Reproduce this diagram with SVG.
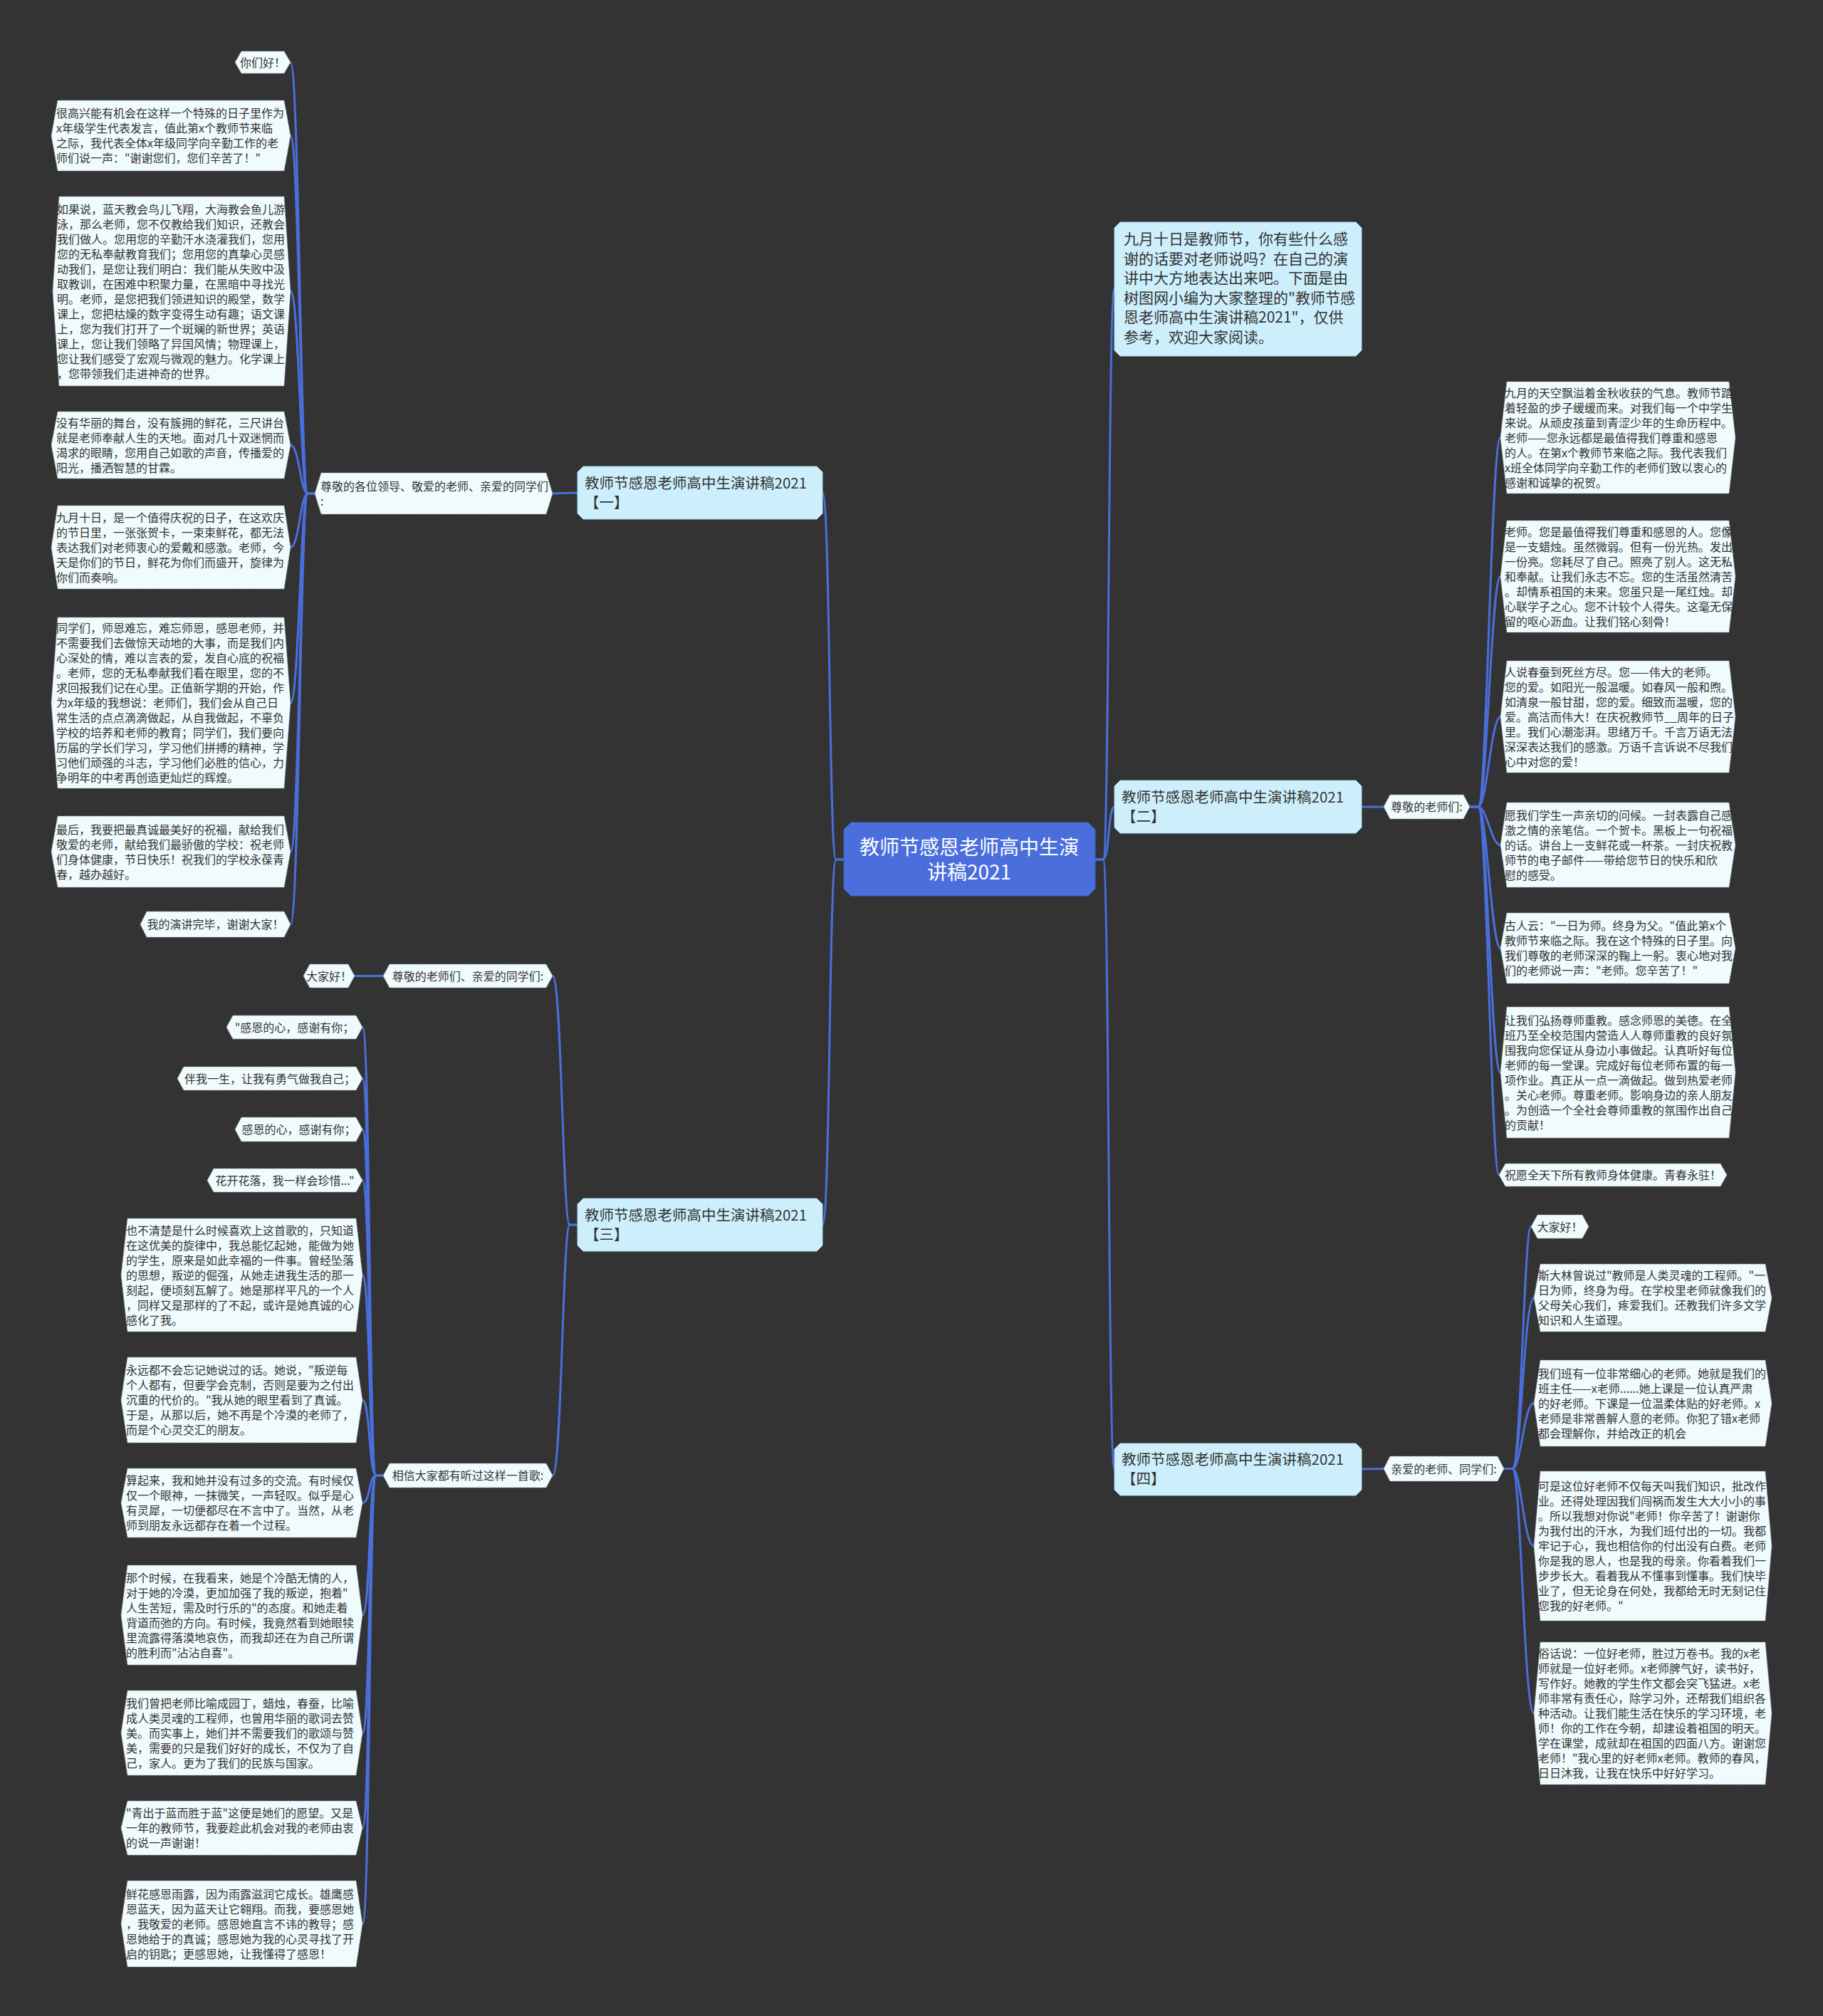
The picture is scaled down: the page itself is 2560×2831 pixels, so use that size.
<svg xmlns="http://www.w3.org/2000/svg" width="2560" height="2831" viewBox="0 0 2560 2831">
<style>
.bg{fill:#333333}
.leaf{fill:#f0fbfd;stroke:#8c9ca2;stroke-width:1;stroke-dasharray:2 2}
.br{fill:#cdeffb;stroke:#a6dbef;stroke-width:1}
.ctr{fill:#4a6fdc;stroke:#3f60c8;stroke-width:1}
text{font-family:"Noto Sans CJK SC","Noto Sans",sans-serif}
.lt{font-size:16px;fill:#333333}
.ltc{font-size:16px;fill:#333333;text-anchor:middle}
.bt{font-size:20.5px;fill:#333333}
.it{font-size:21px;fill:#333333}
.ct{font-size:28px;fill:#ffffff;text-anchor:middle}
.ln{fill:none;stroke:#4a6fdc;stroke-width:3}
</style>
<rect class="bg" x="0" y="0" width="2560" height="2831"/>
<g id="connectors">
<path class="ln" d="M1185,1207 L1174,1207 C1164,1207 1166,692 1155,692"/>
<path class="ln" d="M1185,1207 L1174,1207 C1164,1207 1166,1720 1155,1720"/>
<path class="ln" d="M1538,1207 L1549,1207 C1558,1207 1556,406 1565,406"/>
<path class="ln" d="M1538,1207 L1549,1207 C1558,1207 1556,1133 1565,1133"/>
<path class="ln" d="M1538,1207 L1549,1207 C1558,1207 1556,2063 1565,2063"/>
<path class="ln" d="M811,692 L776,693"/>
<path class="ln" d="M811,1720 L800,1720 C790,1720 789,1370.5 776,1370.5"/>
<path class="ln" d="M811,1720 L800,1720 C790,1720 789,2072 776,2072"/>
<path class="ln" d="M1912,1133 L1943,1133"/>
<path class="ln" d="M1912,2063 L1943,2062.5"/>
<path class="ln" d="M442,693 L432,693 C422,693 420,87.5 408,87.5"/>
<path class="ln" d="M442,693 L432,693 C422,693 420,190.5 408,190.5"/>
<path class="ln" d="M442,693 L432,693 C422,693 420,409 408,409"/>
<path class="ln" d="M442,693 L432,693 C422,693 420,625 408,625"/>
<path class="ln" d="M442,693 L432,693 C422,693 420,768.5 408,768.5"/>
<path class="ln" d="M442,693 L432,693 C422,693 420,987 408,987"/>
<path class="ln" d="M442,693 L432,693 C422,693 420,1196 408,1196"/>
<path class="ln" d="M442,693 L432,693 C422,693 420,1298 408,1298"/>
<path class="ln" d="M538,1370.5 L498,1370.5"/>
<path class="ln" d="M538,2072 L528,2072 C518,2072 520,1442.5 509,1442.5"/>
<path class="ln" d="M538,2072 L528,2072 C518,2072 520,1514.5 509,1514.5"/>
<path class="ln" d="M538,2072 L528,2072 C518,2072 520,1586 509,1586"/>
<path class="ln" d="M538,2072 L528,2072 C518,2072 520,1657.5 509,1657.5"/>
<path class="ln" d="M538,2072 L528,2072 C518,2072 520,1790.5 509,1790.5"/>
<path class="ln" d="M538,2072 L528,2072 C518,2072 520,1966 509,1966"/>
<path class="ln" d="M538,2072 L528,2072 C518,2072 520,2110.5 509,2110.5"/>
<path class="ln" d="M538,2072 L528,2072 C518,2072 520,2268 509,2268"/>
<path class="ln" d="M538,2072 L528,2072 C518,2072 520,2433.5 509,2433.5"/>
<path class="ln" d="M538,2072 L528,2072 C518,2072 520,2567 509,2567"/>
<path class="ln" d="M538,2072 L528,2072 C518,2072 520,2701.5 509,2701.5"/>
<path class="ln" d="M2064,1133 L2076,1133 C2088,1133 2094,614.5 2107,614.5"/>
<path class="ln" d="M2064,1133 L2076,1133 C2088,1133 2094,809.5 2107,809.5"/>
<path class="ln" d="M2064,1133 L2076,1133 C2088,1133 2094,1006.5 2107,1006.5"/>
<path class="ln" d="M2064,1133 L2076,1133 C2088,1133 2094,1186.5 2107,1186.5"/>
<path class="ln" d="M2064,1133 L2076,1133 C2088,1133 2094,1331.5 2107,1331.5"/>
<path class="ln" d="M2064,1133 L2076,1133 C2088,1133 2094,1506 2107,1506"/>
<path class="ln" d="M2064,1133 L2076,1133 C2088,1133 2094,1650 2105,1650"/>
<path class="ln" d="M2112,2062.5 L2124,2062.5 C2136,2062.5 2140,1722.5 2150,1722.5"/>
<path class="ln" d="M2112,2062.5 L2124,2062.5 C2136,2062.5 2140,1822.5 2154,1822.5"/>
<path class="ln" d="M2112,2062.5 L2124,2062.5 C2136,2062.5 2140,1970.5 2154,1970.5"/>
<path class="ln" d="M2112,2062.5 L2124,2062.5 C2136,2062.5 2140,2171 2154,2171"/>
<path class="ln" d="M2112,2062.5 L2124,2062.5 C2136,2062.5 2140,2406 2154,2406"/>
</g>

<g id="center">
<polygon class="ctr" points="1195,1155 1528,1155 1538,1165 1538,1248 1528,1258 1195,1258 1185,1248 1185,1165"/>
<text class="ct" x="1361" y="1200">教师节感恩老师高中生演</text>
<text class="ct" x="1361" y="1235">讲稿2021</text>
</g>

<g id="intro">
<polygon class="br" points="1573,312 1904,312 1912,320 1912,492 1904,500 1573,500 1565,492 1565,320"/>
<text class="it" x="1578" y="343"><tspan x="1578" dy="0">九月十日是教师节，你有些什么感</tspan><tspan x="1578" dy="27.6">谢的话要对老师说吗？在自己的演</tspan><tspan x="1578" dy="27.6">讲中大方地表达出来吧。下面是由</tspan><tspan x="1578" dy="27.6">树图网小编为大家整理的"教师节感</tspan><tspan x="1578" dy="27.6">恩老师高中生演讲稿2021"，仅供</tspan><tspan x="1578" dy="27.6">参考，欢迎大家阅读。</tspan></text>
</g>

<g id="branch1">
<polygon class="br" points="819,655 1147,655 1155,663 1155,721 1147,729 819,729 811,721 811,663"/>
<text class="bt" x="821" y="686"><tspan x="821" dy="0">教师节感恩老师高中生演讲稿2021</tspan><tspan x="821" dy="27">【一】</tspan></text>
</g>
<g id="branch2">
<polygon class="br" points="1573,1096 1904,1096 1912,1104 1912,1162 1904,1170 1573,1170 1565,1162 1565,1104"/>
<text class="bt" x="1575" y="1127"><tspan x="1575" dy="0">教师节感恩老师高中生演讲稿2021</tspan><tspan x="1575" dy="27">【二】</tspan></text>
</g>
<g id="branch3">
<polygon class="br" points="819,1683 1147,1683 1155,1691 1155,1749 1147,1757 819,1757 811,1749 811,1691"/>
<text class="bt" x="821" y="1714"><tspan x="821" dy="0">教师节感恩老师高中生演讲稿2021</tspan><tspan x="821" dy="27">【三】</tspan></text>
</g>
<g id="branch4">
<polygon class="br" points="1573,2027 1904,2027 1912,2035 1912,2092 1904,2100 1573,2100 1565,2092 1565,2035"/>
<text class="bt" x="1575" y="2057"><tspan x="1575" dy="0">教师节感恩老师高中生演讲稿2021</tspan><tspan x="1575" dy="27">【四】</tspan></text>
</g>

<g id="sub1">
<polygon class="leaf" points="442,693 451,664 767,664 776,693 767,722 451,722"/>
<text class="lt" x="450" y="688.5"><tspan x="450" dy="0">尊敬的各位领导、敬爱的老师、亲爱的同学们</tspan><tspan x="450" dy="21">:</tspan></text>
</g>
<g id="l1a">
<polygon class="leaf" points="330,87.5 339,72 399,72 408,87.5 399,103 339,103"/>
<text class="ltc" x="369" y="93.5">你们好！</text>
</g>
<g id="l1b">
<polygon class="leaf" points="72,190.5 81,141 399,141 408,190.5 399,240 81,240"/>
<text class="lt" x="79" y="165"><tspan x="79" dy="0">很高兴能有机会在这样一个特殊的日子里作为</tspan><tspan x="79" dy="21">x年级学生代表发言，值此第x个教师节来临</tspan><tspan x="79" dy="21">之际，我代表全体x年级同学向辛勤工作的老</tspan><tspan x="79" dy="21">师们说一声："谢谢您们，您们辛苦了！"</tspan></text>
</g>
<g id="l1c">
<polygon class="leaf" points="74,409 83,276 399,276 408,409 399,542 83,542"/>
<text class="lt" x="80" y="299.5"><tspan x="80" dy="0">如果说，蓝天教会鸟儿飞翔，大海教会鱼儿游</tspan><tspan x="80" dy="21">泳，那么老师，您不仅教给我们知识，还教会</tspan><tspan x="80" dy="21">我们做人。您用您的辛勤汗水浇灌我们，您用</tspan><tspan x="80" dy="21">您的无私奉献教育我们；您用您的真挚心灵感</tspan><tspan x="80" dy="21">动我们，是您让我们明白：我们能从失败中汲</tspan><tspan x="80" dy="21">取教训，在困难中积聚力量，在黑暗中寻找光</tspan><tspan x="80" dy="21">明。老师，是您把我们领进知识的殿堂，数学</tspan><tspan x="80" dy="21">课上，您把枯燥的数字变得生动有趣；语文课</tspan><tspan x="80" dy="21">上，您为我们打开了一个斑斓的新世界；英语</tspan><tspan x="80" dy="21">课上，您让我们领略了异国风情；物理课上，</tspan><tspan x="80" dy="21">您让我们感受了宏观与微观的魅力。化学课上</tspan><tspan x="80" dy="21">，您带领我们走进神奇的世界。</tspan></text>
</g>
<g id="l1d">
<polygon class="leaf" points="72,625 81,578 399,578 408,625 399,672 81,672"/>
<text class="lt" x="79" y="599.5"><tspan x="79" dy="0">没有华丽的舞台，没有簇拥的鲜花，三尺讲台</tspan><tspan x="79" dy="21">就是老师奉献人生的天地。面对几十双迷惘而</tspan><tspan x="79" dy="21">渴求的眼睛，您用自己如歌的声音，传播爱的</tspan><tspan x="79" dy="21">阳光，播洒智慧的甘霖。</tspan></text>
</g>
<g id="l1e">
<polygon class="leaf" points="72,768.5 81,710 399,710 408,768.5 399,827 81,827"/>
<text class="lt" x="79" y="732.5"><tspan x="79" dy="0">九月十日，是一个值得庆祝的日子，在这欢庆</tspan><tspan x="79" dy="21">的节日里，一张张贺卡，一束束鲜花，都无法</tspan><tspan x="79" dy="21">表达我们对老师衷心的爱戴和感激。老师，今</tspan><tspan x="79" dy="21">天是你们的节日，鲜花为你们而盛开，旋律为</tspan><tspan x="79" dy="21">你们而奏响。</tspan></text>
</g>
<g id="l1f">
<polygon class="leaf" points="72,987 81,867 399,867 408,987 399,1107 81,1107"/>
<text class="lt" x="79" y="888"><tspan x="79" dy="0">同学们，师恩难忘，难忘师恩，感恩老师，并</tspan><tspan x="79" dy="21">不需要我们去做惊天动地的大事，而是我们内</tspan><tspan x="79" dy="21">心深处的情，难以言表的爱，发自心底的祝福</tspan><tspan x="79" dy="21">。老师，您的无私奉献我们看在眼里，您的不</tspan><tspan x="79" dy="21">求回报我们记在心里。正值新学期的开始，作</tspan><tspan x="79" dy="21">为x年级的我想说：老师们，我们会从自己日</tspan><tspan x="79" dy="21">常生活的点点滴滴做起，从自我做起，不辜负</tspan><tspan x="79" dy="21">学校的培养和老师的教育；同学们，我们要向</tspan><tspan x="79" dy="21">历届的学长们学习，学习他们拼搏的精神，学</tspan><tspan x="79" dy="21">习他们顽强的斗志，学习他们必胜的信心，力</tspan><tspan x="79" dy="21">争明年的中考再创造更灿烂的辉煌。</tspan></text>
</g>
<g id="l1g">
<polygon class="leaf" points="72,1196 81,1146 399,1146 408,1196 399,1246 81,1246"/>
<text class="lt" x="79" y="1170.5"><tspan x="79" dy="0">最后，我要把最真诚最美好的祝福，献给我们</tspan><tspan x="79" dy="21">敬爱的老师，献给我们最骄傲的学校：祝老师</tspan><tspan x="79" dy="21">们身体健康，节日快乐！祝我们的学校永葆青</tspan><tspan x="79" dy="21">春，越办越好。</tspan></text>
</g>
<g id="l1h">
<polygon class="leaf" points="197,1298 206,1280 399,1280 408,1298 399,1316 206,1316"/>
<text class="ltc" x="302.5" y="1304">我的演讲完毕，谢谢大家！</text>
</g>

<g id="sub3a">
<polygon class="leaf" points="538,1370.5 547,1354 767,1354 776,1370.5 767,1387 547,1387"/>
<text class="ltc" x="657" y="1376.5">尊敬的老师们、亲爱的同学们:</text>
</g>
<g id="l3a1">
<polygon class="leaf" points="426,1370.5 435,1354 489,1354 498,1370.5 489,1387 435,1387"/>
<text class="ltc" x="462" y="1376.5">大家好！</text>
</g>
<g id="sub3b">
<polygon class="leaf" points="538,2072 547,2055 767,2055 776,2072 767,2089 547,2089"/>
<text class="ltc" x="657" y="2078">相信大家都有听过这样一首歌:</text>
</g>
<g id="l3b1">
<polygon class="leaf" points="318,1442.5 327,1426 500,1426 509,1442.5 500,1459 327,1459"/>
<text class="ltc" x="413.5" y="1448.5">"感恩的心，感谢有你；</text>
</g>
<g id="l3b2">
<polygon class="leaf" points="249,1514.5 258,1498 500,1498 509,1514.5 500,1531 258,1531"/>
<text class="ltc" x="379" y="1520.5">伴我一生，让我有勇气做我自己；</text>
</g>
<g id="l3b3">
<polygon class="leaf" points="330,1586 339,1569 500,1569 509,1586 500,1603 339,1603"/>
<text class="ltc" x="419.5" y="1592">感恩的心，感谢有你；</text>
</g>
<g id="l3b4">
<polygon class="leaf" points="291,1657.5 300,1641 500,1641 509,1657.5 500,1674 300,1674"/>
<text class="ltc" x="400" y="1663.5">花开花落，我一样会珍惜..."</text>
</g>
<g id="l3b5">
<polygon class="leaf" points="170,1790.5 179,1711 500,1711 509,1790.5 500,1870 179,1870"/>
<text class="lt" x="177" y="1733.5"><tspan x="177" dy="0">也不清楚是什么时候喜欢上这首歌的，只知道</tspan><tspan x="177" dy="21">在这优美的旋律中，我总能忆起她，能做为她</tspan><tspan x="177" dy="21">的学生，原来是如此幸福的一件事。曾经坠落</tspan><tspan x="177" dy="21">的思想，叛逆的倔强，从她走进我生活的那一</tspan><tspan x="177" dy="21">刻起，便顷刻瓦解了。她是那样平凡的一个人</tspan><tspan x="177" dy="21">，同样又是那样的了不起，或许是她真诚的心</tspan><tspan x="177" dy="21">感化了我。</tspan></text>
</g>
<g id="l3b6">
<polygon class="leaf" points="170,1966 179,1906 500,1906 509,1966 500,2026 179,2026"/>
<text class="lt" x="177" y="1930"><tspan x="177" dy="0">永远都不会忘记她说过的话。她说，"叛逆每</tspan><tspan x="177" dy="21">个人都有，但要学会克制，否则是要为之付出</tspan><tspan x="177" dy="21">沉重的代价的。"我从她的眼里看到了真诚。</tspan><tspan x="177" dy="21">于是，从那以后，她不再是个冷漠的老师了，</tspan><tspan x="177" dy="21">而是个心灵交汇的朋友。</tspan></text>
</g>
<g id="l3b7">
<polygon class="leaf" points="170,2110.5 179,2062 500,2062 509,2110.5 500,2159 179,2159"/>
<text class="lt" x="177" y="2085"><tspan x="177" dy="0">算起来，我和她并没有过多的交流。有时候仅</tspan><tspan x="177" dy="21">仅一个眼神，一抹微笑，一声轻叹。似乎是心</tspan><tspan x="177" dy="21">有灵犀，一切便都尽在不言中了。当然，从老</tspan><tspan x="177" dy="21">师到朋友永远都存在着一个过程。</tspan></text>
</g>
<g id="l3b8">
<polygon class="leaf" points="170,2268 179,2198 500,2198 509,2268 500,2338 179,2338"/>
<text class="lt" x="177" y="2221.5"><tspan x="177" dy="0">那个时候，在我看来，她是个冷酷无情的人，</tspan><tspan x="177" dy="21">对于她的冷漠，更加加强了我的叛逆，抱着"</tspan><tspan x="177" dy="21">人生苦短，需及时行乐的"的态度。和她走着</tspan><tspan x="177" dy="21">背道而弛的方向。有时候，我竟然看到她眼犊</tspan><tspan x="177" dy="21">里流露得落漠地哀伤，而我却还在为自己所谓</tspan><tspan x="177" dy="21">的胜利而"沾沾自喜"。</tspan></text>
</g>
<g id="l3b9">
<polygon class="leaf" points="170,2433.5 179,2374 500,2374 509,2433.5 500,2493 179,2493"/>
<text class="lt" x="177" y="2397.5"><tspan x="177" dy="0">我们曾把老师比喻成园丁，蜡烛，春蚕，比喻</tspan><tspan x="177" dy="21">成人类灵魂的工程师，也曾用华丽的歌词去赞</tspan><tspan x="177" dy="21">美。而实事上，她们并不需要我们的歌颂与赞</tspan><tspan x="177" dy="21">美，需要的只是我们好好的成长，不仅为了自</tspan><tspan x="177" dy="21">己，家人。更为了我们的民族与国家。</tspan></text>
</g>
<g id="l3b10">
<polygon class="leaf" points="170,2567 179,2529 500,2529 509,2567 500,2605 179,2605"/>
<text class="lt" x="177" y="2552"><tspan x="177" dy="0">"青出于蓝而胜于蓝"这便是她们的愿望。又是</tspan><tspan x="177" dy="21">一年的教师节，我要趁此机会对我的老师由衷</tspan><tspan x="177" dy="21">的说一声谢谢！</tspan></text>
</g>
<g id="l3b11">
<polygon class="leaf" points="170,2701.5 179,2641 500,2641 509,2701.5 500,2762 179,2762"/>
<text class="lt" x="177" y="2665.5"><tspan x="177" dy="0">鲜花感恩雨露，因为雨露滋润它成长。雄鹰感</tspan><tspan x="177" dy="21">恩蓝天，因为蓝天让它翱翔。而我，要感恩她</tspan><tspan x="177" dy="21">，我敬爱的老师。感恩她直言不讳的教导；感</tspan><tspan x="177" dy="21">恩她给于的真诚；感恩她为我的心灵寻找了开</tspan><tspan x="177" dy="21">启的钥匙；更感恩她，让我懂得了感恩！</tspan></text>
</g>

<g id="sub2">
<polygon class="leaf" points="1943,1133 1952,1116 2055,1116 2064,1133 2055,1150 1952,1150"/>
<text class="ltc" x="2003.5" y="1139">尊敬的老师们:</text>
</g>
<g id="r2a">
<polygon class="leaf" points="2107,614.5 2116,536 2428,536 2437,614.5 2428,693 2116,693"/>
<text class="lt" x="2113" y="557.5"><tspan x="2113" dy="0">九月的天空飘溢着金秋收获的气息。教师节踏</tspan><tspan x="2113" dy="21">着轻盈的步子缓缓而来。对我们每一个中学生</tspan><tspan x="2113" dy="21">来说。从顽皮孩童到青涩少年的生命历程中。</tspan><tspan x="2113" dy="21">老师——您永远都是最值得我们尊重和感恩</tspan><tspan x="2113" dy="21">的人。在第x个教师节来临之际。我代表我们</tspan><tspan x="2113" dy="21">x班全体同学向辛勤工作的老师们致以衷心的</tspan><tspan x="2113" dy="21">感谢和诚挚的祝贺。</tspan></text>
</g>
<g id="r2b">
<polygon class="leaf" points="2107,809.5 2116,731 2428,731 2437,809.5 2428,888 2116,888"/>
<text class="lt" x="2113" y="752.5"><tspan x="2113" dy="0">老师。您是最值得我们尊重和感恩的人。您像</tspan><tspan x="2113" dy="21">是一支蜡烛。虽然微弱。但有一份光热。发出</tspan><tspan x="2113" dy="21">一份亮。您耗尽了自己。照亮了别人。这无私</tspan><tspan x="2113" dy="21">和奉献。让我们永志不忘。您的生活虽然清苦</tspan><tspan x="2113" dy="21">。却情系祖国的未来。您虽只是一尾红烛。却</tspan><tspan x="2113" dy="21">心联学子之心。您不计较个人得失。这毫无保</tspan><tspan x="2113" dy="21">留的呕心沥血。让我们铭心刻骨！</tspan></text>
</g>
<g id="r2c">
<polygon class="leaf" points="2107,1006.5 2116,928 2428,928 2437,1006.5 2428,1085 2116,1085"/>
<text class="lt" x="2113" y="949.5"><tspan x="2113" dy="0">人说春蚕到死丝方尽。您——伟大的老师。</tspan><tspan x="2113" dy="21">您的爱。如阳光一般温暖。如春风一般和煦。</tspan><tspan x="2113" dy="21">如清泉一般甘甜，您的爱。细致而温暖，您的</tspan><tspan x="2113" dy="21">爱。高洁而伟大！在庆祝教师节__周年的日子</tspan><tspan x="2113" dy="21">里。我们心潮澎湃。思绪万千。千言万语无法</tspan><tspan x="2113" dy="21">深深表达我们的感激。万语千言诉说不尽我们</tspan><tspan x="2113" dy="21">心中对您的爱！</tspan></text>
</g>
<g id="r2d">
<polygon class="leaf" points="2107,1186.5 2116,1127 2428,1127 2437,1186.5 2428,1246 2116,1246"/>
<text class="lt" x="2113" y="1150.5"><tspan x="2113" dy="0">愿我们学生一声亲切的问候。一封表露自己感</tspan><tspan x="2113" dy="21">激之情的亲笔信。一个贺卡。黑板上一句祝福</tspan><tspan x="2113" dy="21">的话。讲台上一支鲜花或一杯茶。一封庆祝教</tspan><tspan x="2113" dy="21">师节的电子邮件——带给您节日的快乐和欣</tspan><tspan x="2113" dy="21">慰的感受。</tspan></text>
</g>
<g id="r2e">
<polygon class="leaf" points="2107,1331.5 2116,1282 2428,1282 2437,1331.5 2428,1381 2116,1381"/>
<text class="lt" x="2113" y="1306"><tspan x="2113" dy="0">古人云："一日为师。终身为父。"值此第x个</tspan><tspan x="2113" dy="21">教师节来临之际。我在这个特殊的日子里。向</tspan><tspan x="2113" dy="21">我们尊敬的老师深深的鞠上一躬。衷心地对我</tspan><tspan x="2113" dy="21">们的老师说一声："老师。您辛苦了！"</tspan></text>
</g>
<g id="r2f">
<polygon class="leaf" points="2107,1506 2116,1414 2428,1414 2437,1506 2428,1598 2116,1598"/>
<text class="lt" x="2113" y="1438.5"><tspan x="2113" dy="0">让我们弘扬尊师重教。感念师恩的美德。在全</tspan><tspan x="2113" dy="21">班乃至全校范围内营造人人尊师重教的良好氛</tspan><tspan x="2113" dy="21">围我向您保证从身边小事做起。认真听好每位</tspan><tspan x="2113" dy="21">老师的每一堂课。完成好每位老师布置的每一</tspan><tspan x="2113" dy="21">项作业。真正从一点一滴做起。做到热爱老师</tspan><tspan x="2113" dy="21">。关心老师。尊重老师。影响身边的亲人朋友</tspan><tspan x="2113" dy="21">。为创造一个全社会尊师重教的氛围作出自己</tspan><tspan x="2113" dy="21">的贡献！</tspan></text>
</g>
<g id="r2g">
<polygon class="leaf" points="2105,1650 2114,1634 2416,1634 2425,1650 2416,1666 2114,1666"/>
<text class="ltc" x="2265" y="1656">祝愿全天下所有教师身体健康。青春永驻！</text>
</g>

<g id="sub4">
<polygon class="leaf" points="1943,2062.5 1952,2045 2103,2045 2112,2062.5 2103,2080 1952,2080"/>
<text class="ltc" x="2027.5" y="2068.5">亲爱的老师、同学们:</text>
</g>
<g id="r4a">
<polygon class="leaf" points="2150,1722.5 2159,1706 2222,1706 2231,1722.5 2222,1739 2159,1739"/>
<text class="ltc" x="2190.5" y="1728.5">大家好！</text>
</g>
<g id="r4b">
<polygon class="leaf" points="2154,1822.5 2163,1775 2479,1775 2488,1822.5 2479,1870 2163,1870"/>
<text class="lt" x="2160" y="1797"><tspan x="2160" dy="0">斯大林曾说过"教师是人类灵魂的工程师。"一</tspan><tspan x="2160" dy="21">日为师，终身为母。在学校里老师就像我们的</tspan><tspan x="2160" dy="21">父母关心我们，疼爱我们。还教我们许多文学</tspan><tspan x="2160" dy="21">知识和人生道理。</tspan></text>
</g>
<g id="r4c">
<polygon class="leaf" points="2154,1970.5 2163,1910 2479,1910 2488,1970.5 2479,2031 2163,2031"/>
<text class="lt" x="2160" y="1934.5"><tspan x="2160" dy="0">我们班有一位非常细心的老师。她就是我们的</tspan><tspan x="2160" dy="21">班主任——x老师......她上课是一位认真严肃</tspan><tspan x="2160" dy="21">的好老师。下课是一位温柔体贴的好老师。x</tspan><tspan x="2160" dy="21">老师是非常善解人意的老师。你犯了错x老师</tspan><tspan x="2160" dy="21">都会理解你，并给改正的机会</tspan></text>
</g>
<g id="r4d">
<polygon class="leaf" points="2154,2171 2163,2066 2479,2066 2488,2171 2479,2276 2163,2276"/>
<text class="lt" x="2160" y="2093"><tspan x="2160" dy="0">可是这位好老师不仅每天叫我们知识，批改作</tspan><tspan x="2160" dy="21">业。还得处理因我们闯祸而发生大大小小的事</tspan><tspan x="2160" dy="21">。所以我想对你说"老师！你辛苦了！谢谢你</tspan><tspan x="2160" dy="21">为我付出的汗水，为我们班付出的一切。我都</tspan><tspan x="2160" dy="21">牢记于心，我也相信你的付出没有白费。老师</tspan><tspan x="2160" dy="21">你是我的恩人，也是我的母亲。你看着我们一</tspan><tspan x="2160" dy="21">步步长大。看着我从不懂事到懂事。我们快毕</tspan><tspan x="2160" dy="21">业了，但无论身在何处，我都给无时无刻记住</tspan><tspan x="2160" dy="21">您我的好老师。"</tspan></text>
</g>
<g id="r4e">
<polygon class="leaf" points="2154,2406 2163,2306 2479,2306 2488,2406 2479,2506 2163,2506"/>
<text class="lt" x="2160" y="2328"><tspan x="2160" dy="0">俗话说：一位好老师，胜过万卷书。我的x老</tspan><tspan x="2160" dy="21">师就是一位好老师。x老师脾气好，读书好，</tspan><tspan x="2160" dy="21">写作好。她教的学生作文都会突飞猛进。x老</tspan><tspan x="2160" dy="21">师非常有责任心，除学习外，还帮我们组织各</tspan><tspan x="2160" dy="21">种活动。让我们能生活在快乐的学习环境，老</tspan><tspan x="2160" dy="21">师！你的工作在今朝，却建设着祖国的明天。</tspan><tspan x="2160" dy="21">学在课堂，成就却在祖国的四面八方。谢谢您</tspan><tspan x="2160" dy="21">老师！"我心里的好老师x老师。教师的春风，</tspan><tspan x="2160" dy="21">日日沐我，让我在快乐中好好学习。</tspan></text>
</g>
</svg>
